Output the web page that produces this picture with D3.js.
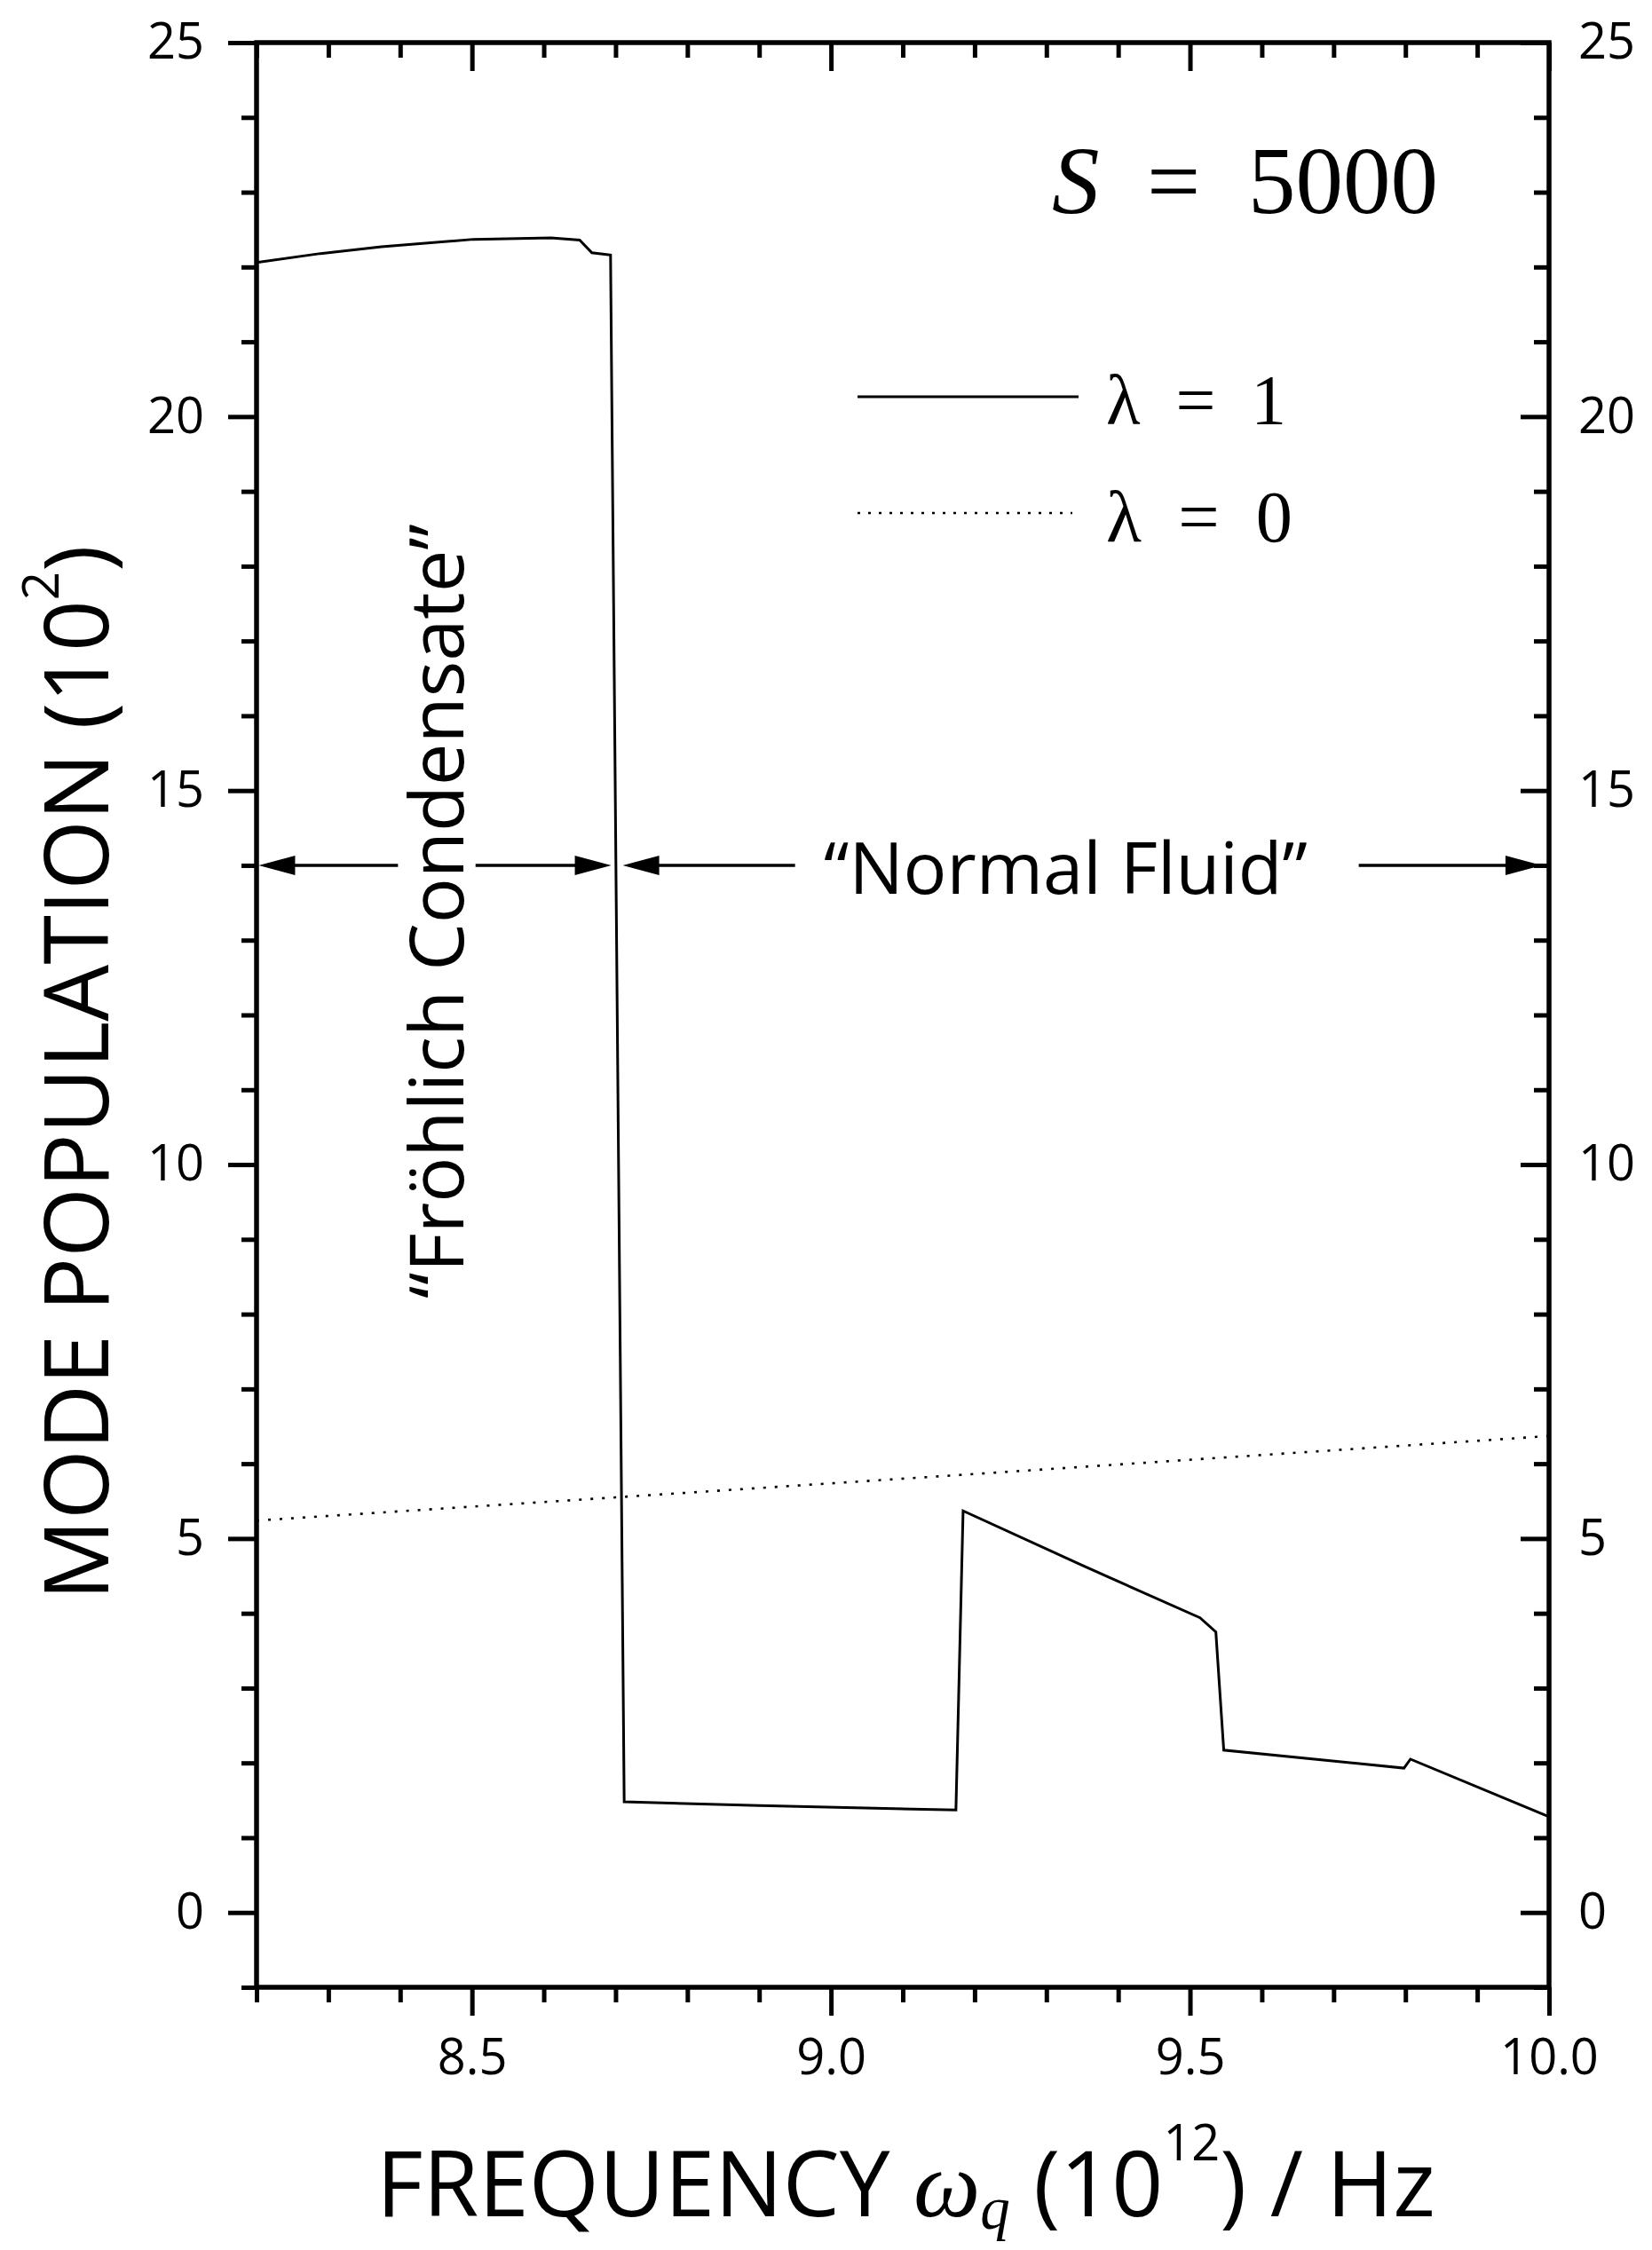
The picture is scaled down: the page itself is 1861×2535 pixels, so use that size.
<!DOCTYPE html>
<html>
<head>
<meta charset="utf-8">
<script src="https://cdn.jsdelivr.net/npm/d3@7"></script>
<style>
  html, body { margin: 0; padding: 0; background: #fff; }
  svg { display: block; }
</style>
</head>
<body>
<div id="chart"></div>
<script>
// Mode population of a phonon mode against its frequency, S = 5000

const xTickValues = [8.5, 9.0, 9.5, 10.0];
const xTickLabels = ["8.5", "9.0", "9.5", "10.0"];
const yTickValues = [0, 5, 10, 15, 20, 25];
const yTickLabels = ["0", "5", "10", "15", "20", "25"];

// lambda = 1 (solid curve)
const freqLambda1 = [8.200, 8.289, 8.374, 8.502, 8.610, 8.650, 8.667, 8.693, 8.712, 8.900, 9.174,
                     9.184, 9.350, 9.514, 9.536, 9.547, 9.798, 9.807, 10.000];
const popLambda1  = [22.06, 22.18, 22.27, 22.37, 22.39, 22.36, 22.19, 22.16, 1.48, 1.43, 1.37,
                     5.37, 4.64, 3.94, 3.75, 2.17, 1.93, 2.05, 1.28];

// lambda = 0 (dotted curve)
const freqLambda0 = [8.20, 8.70, 9.18, 10.00];
const popLambda0  = [5.24, 5.55, 5.85, 6.37];

// region arrows (tail -> tip), all drawn at the same population level
const arrowLevel = 14;
const arrowTails = [8.397, 8.505, 8.950, 9.735];
const arrowTips  = [8.203, 8.694, 8.710, 9.990];

const SANS = "'Open Sans', 'Noto Sans', sans-serif";
const SERIF = "'Liberation Serif', 'DejaVu Serif', serif";

const W = 1861, H = 2535;
const plot = { left: 289, right: 1745, top: 48, bottom: 2239 };

const svg = d3.select("#chart").append("svg")
  .attr("width", W).attr("height", H)
  .attr("viewBox", `0 0 ${W} ${H}`);

svg.append("rect").attr("width", W).attr("height", H).attr("fill", "#fff");

const x = d3.scaleLinear().domain([8.2, 10.0]).range([plot.left, plot.right]);
const y = d3.scaleLinear().domain([-1, 25]).range([plot.bottom, plot.top]);

const xMinor = d3.range(82, 101).map(d => d / 10).filter(d => !xTickValues.some(v => Math.abs(v - d) < 1e-9));
const yMinor = d3.range(-1, 26).filter(d => d % 5 !== 0);

function styleAxis(g) {
  g.select(".domain").remove();
  g.selectAll(".tick line").attr("stroke", "#000").attr("stroke-width", 5);
  g.selectAll(".tick text")
    .attr("fill", "#000")
    .attr("font-family", SANS)
    .attr("font-size", 56);
}

// bottom axis: outward ticks with labels
svg.append("g").attr("transform", `translate(0,${plot.bottom})`)
  .call(d3.axisBottom(x).tickValues(xMinor).tickSize(17).tickFormat(""))
  .call(styleAxis);
svg.append("g").attr("transform", `translate(0,${plot.bottom})`)
  .call(d3.axisBottom(x).tickValues(xTickValues).tickSize(32).tickPadding(26)
    .tickFormat((d, i) => xTickLabels[i]))
  .call(styleAxis);

// top axis: inward ticks, no labels
svg.append("g").attr("transform", `translate(0,${plot.top})`)
  .call(d3.axisTop(x).tickValues(xMinor).tickSize(-17).tickFormat(""))
  .call(styleAxis);
svg.append("g").attr("transform", `translate(0,${plot.top})`)
  .call(d3.axisTop(x).tickValues(xTickValues).tickSize(-32).tickFormat(""))
  .call(styleAxis);

// left axis: outward ticks with labels
svg.append("g").attr("transform", `translate(${plot.left},0)`)
  .call(d3.axisLeft(y).tickValues(yMinor).tickSize(17).tickFormat(""))
  .call(styleAxis);
svg.append("g").attr("transform", `translate(${plot.left},0)`)
  .call(d3.axisLeft(y).tickValues(yTickValues).tickSize(32).tickPadding(27)
    .tickFormat((d, i) => yTickLabels[i]))
  .call(styleAxis);

// right axis: inward ticks with labels outside
svg.append("g").attr("transform", `translate(${plot.right},0)`)
  .call(d3.axisRight(y).tickValues(yMinor).tickSize(-17).tickFormat(""))
  .call(styleAxis);
svg.append("g").attr("transform", `translate(${plot.right},0)`)
  .call(d3.axisRight(y).tickValues(yTickValues).tickSize(-32).tickPadding(33)
    .tickFormat((d, i) => yTickLabels[i]))
  .call(styleAxis);

// frame
svg.append("rect")
  .attr("x", plot.left).attr("y", plot.top)
  .attr("width", plot.right - plot.left).attr("height", plot.bottom - plot.top)
  .attr("fill", "none").attr("stroke", "#000").attr("stroke-width", 5.5);

// curves
const line = d3.line().x(d => x(d[0])).y(d => y(d[1]));

svg.append("path")
  .datum(freqLambda0.map((f, i) => [f, popLambda0[i]]))
  .attr("d", line)
  .attr("fill", "none").attr("stroke", "#000")
  .attr("stroke-width", 2.6).attr("stroke-dasharray", "3 10");

svg.append("path")
  .datum(freqLambda1.map((f, i) => [f, popLambda1[i]]))
  .attr("d", line)
  .attr("fill", "none").attr("stroke", "#000")
  .attr("stroke-width", 3).attr("stroke-linejoin", "miter");

// region arrows
const headLen = 41, headHalf = 11;
const ay = y(arrowLevel);
arrowTails.forEach((tail, i) => {
  const x0 = x(tail), x1 = x(arrowTips[i]);
  const dir = Math.sign(x1 - x0);
  svg.append("line")
    .attr("x1", x0).attr("y1", ay)
    .attr("x2", x1 - dir * headLen * 0.8).attr("y2", ay)
    .attr("stroke", "#000").attr("stroke-width", 3.5);
  svg.append("path")
    .attr("d", `M${x1},${ay} L${x1 - dir * headLen},${ay - headHalf} L${x1 - dir * headLen},${ay + headHalf} Z`)
    .attr("fill", "#000");
});

// text helper: build at a trial size, then rebuild at the size that gives the wanted width
function fitted(build, targetWidth, trial) {
  const probe = build(trial);
  const w = probe.node().getBBox().width;
  probe.remove();
  return build(trial * targetWidth / w);
}

// x-axis title
fitted(fs => {
  const t = svg.append("text")
    .attr("x", (424 + 1617) / 2).attr("y", 2497)
    .attr("text-anchor", "middle")
    .attr("font-family", SANS).attr("font-size", fs).attr("fill", "#000");
  t.append("tspan").text("FREQUENCY ");
  t.append("tspan").attr("font-family", SERIF).attr("font-style", "italic").attr("font-size", fs * 1.05).text("ω");
  t.append("tspan").attr("font-family", SERIF).attr("font-style", "italic")
    .attr("font-size", fs * 0.66).attr("dy", fs * 0.14).text("q");
  t.append("tspan").attr("dy", -fs * 0.14).text(" (10");
  t.append("tspan").attr("font-size", fs * 0.55).attr("dy", -fs * 0.62).text("12");
  t.append("tspan").attr("dy", fs * 0.62).text(") / Hz");
  return t;
}, 1193, 96);

// y-axis title
fitted(fs => {
  const t = svg.append("text")
    .attr("transform", `translate(122,${(614 + 1803) / 2}) rotate(-90)`)
    .attr("text-anchor", "middle")
    .attr("font-family", SANS).attr("font-size", fs).attr("fill", "#000");
  t.append("tspan").text("MODE POPULATION (10");
  t.append("tspan").attr("font-size", fs * 0.56).attr("dy", -fs * 0.55).text("2");
  t.append("tspan").attr("dy", fs * 0.55).text(")");
  return t;
}, 1189, 100);

// region labels
fitted(fs => svg.append("text")
  .attr("transform", `translate(${x(8.488)},${(590 + 1463) / 2}) rotate(-90)`)
  .attr("text-anchor", "middle")
  .attr("font-family", SANS).attr("font-size", fs).attr("fill", "#000")
  .text("\u201CFröhlich Condensate\u201D"), 873, 80);

fitted(fs => svg.append("text")
  .attr("x", (927 + 1474) / 2).attr("y", 1007)
  .attr("text-anchor", "middle")
  .attr("font-family", SANS).attr("font-size", fs).attr("fill", "#000")
  .text("\u201CNormal Fluid\u201D"), 545, 79);

// S = 5000
fitted(fs => {
  const t = svg.append("text")
    .attr("x", (1185 + 1620) / 2).attr("y", 240)
    .attr("text-anchor", "middle")
    .attr("font-family", SERIF).attr("font-size", fs).attr("fill", "#000")
    .attr("xml:space", "preserve");
  t.append("tspan").attr("font-style", "italic").text("S");
  t.append("tspan").text("  =  5000");
  return t;
}, 435, 105);

// legend
const legendRows = [
  { label: "λ  =  1", y: 447, base: 478, width: 203, dash: null },
  { label: "λ  =  0", y: 578, base: 610, width: 210, dash: "3 9" }
];
legendRows.forEach(r => {
  svg.append("line")
    .attr("x1", 966).attr("x2", r.dash ? 1208 : 1215)
    .attr("y1", r.y).attr("y2", r.y)
    .attr("stroke", "#000").attr("stroke-width", r.dash ? 2.4 : 3)
    .attr("stroke-dasharray", r.dash);
  fitted(fs => svg.append("text")
    .attr("x", 1246).attr("y", r.base)
    .attr("font-family", SERIF).attr("font-size", fs).attr("fill", "#000")
    .attr("xml:space", "preserve")
    .text(r.label), r.width, 95);
});
</script>
</body>
</html>
